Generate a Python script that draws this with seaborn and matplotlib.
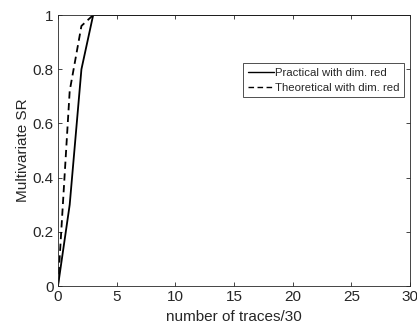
import numpy as np
import pandas as pd
import matplotlib
matplotlib.use("Agg")
import matplotlib.pyplot as plt
import seaborn as sns

# Success rate versus number of traces (in units of 30 traces)
traces = list(range(0, 31))
practical_sr = [0.0, 0.3, 0.8] + [1.0] * 28
theoretical_sr = [0.0, 0.72, 0.96] + [1.0] * 28
series_names = ["Practical with dim. red", "Theoretical with dim. red"]
x_ticks = [0, 5, 10, 15, 20, 25, 30]
y_ticks = [0, 0.2, 0.4, 0.6, 0.8, 1]
y_tick_labels = ["0", "0.2", "0.4", "0.6", "0.8", "1"]

sns.set_style("white")
plt.rcParams["font.family"] = ["Liberation Sans", "DejaVu Sans"]

df = pd.DataFrame({
    "traces": traces * 2,
    "sr": practical_sr + theoretical_sr,
    "series": [series_names[0]] * len(traces) + [series_names[1]] * len(traces),
})

fig = plt.figure(figsize=(4.17, 3.28), dpi=100)
ax = fig.add_axes([0.139, 0.128, 0.844, 0.826])

sns.lineplot(data=df, x="traces", y="sr", hue="series", style="series",
             palette=["black", "black"], dashes=[(None, None), (4, 2.5)],
             linewidth=1.3, ax=ax, legend=True)

ax.set_xlim(0, 30)
ax.set_ylim(0, 1)
ax.set_xticks(x_ticks)
ax.set_yticks(y_ticks)
ax.set_yticklabels(y_tick_labels)
ax.set_xlabel("number of traces/30", fontsize=11, color="#262626", labelpad=4)
ax.set_ylabel("Multivariate SR", fontsize=11, color="#262626", labelpad=2)
ax.tick_params(direction="in", length=3, width=0.6, colors="#262626",
               labelsize=11, top=True, right=True, bottom=True, left=True, pad=3)
for s in ax.spines.values():
    s.set_visible(True)
    s.set_color("#262626")
    s.set_linewidth(0.6)

leg = ax.legend(loc="upper left", bbox_to_anchor=(0.526, 0.823), fontsize=8.2,
                frameon=True, fancybox=False, edgecolor="black",
                handlelength=2.3, handletextpad=0.1, borderpad=0.4,
                labelspacing=0.45, borderaxespad=0)
leg.get_frame().set_linewidth(0.6)
for line in leg.get_lines():
    line.set_linewidth(1.0)

fig.savefig("out.png", dpi=100)
